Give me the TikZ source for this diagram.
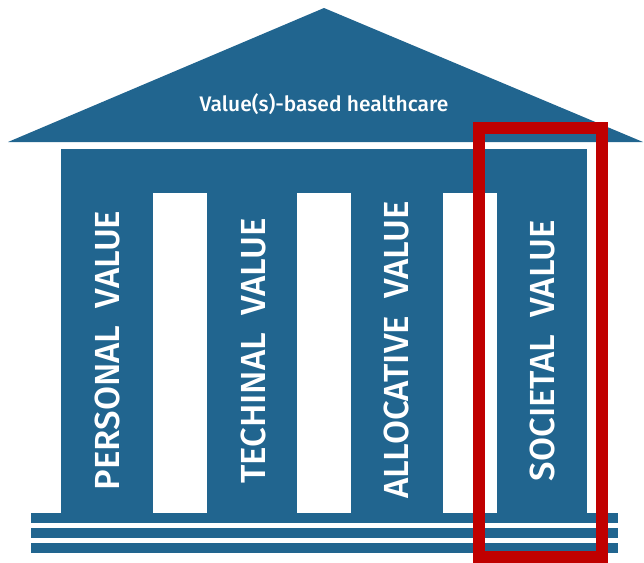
\documentclass[tikz,border=0pt]{standalone}
\usepackage{fontspec}
\setmainfont{Fira Sans}[UprightFont=* Medium]
\usepackage{tikz}
\definecolor{templeblue}{RGB}{33,101,143}
\definecolor{markred}{RGB}{192,0,0}

\begin{document}
\begin{tikzpicture}[x=1pt,y=-1pt]
  \tikzstyle{BlueStyle}=[fill=templeblue,draw=none]
  \tikzstyle{GapStyle}=[fill=white,draw=none]
  \tikzstyle{PillarStyle}=[text=white,rotate=90,inner sep=0pt,
                           font=\fontsize{34.8}{35}\selectfont]
  \useasboundingbox (0,0) rectangle (644,562);
  % roof
  \fill[BlueStyle] (8,142) -- (324,8) -- (643,142) -- cycle;
  \node[text=white,font=\fontsize{21}{21}\selectfont] (roof) at (324,104) {Value(s)-based healthcare};
  % body with the gaps between the pillars
  \fill[BlueStyle] (61,149) rectangle (587,513);
  \foreach \x in {153,297,443}
    \fill[GapStyle] (\x,193) rectangle ++(54,320);
  % steps
  \foreach \y in {513,528,543}
    \fill[BlueStyle] (31,\y) rectangle (618,\y+10);
  % pillars
  \node[PillarStyle] (personal) at (107.5,350.5) {PERSONAL\ \ VALUE};
  \node[PillarStyle] (techinal) at (253.5,351) {TECHINAL\ \ VALUE};
  \node[PillarStyle] (allocative) at (396.5,350) {ALLOCATIVE\ \ VALUE};
  \node[PillarStyle] (societal) at (542.5,350.5) {SOCIETAL\ \ VALUE};
  % mark
  \draw[markred,line width=12pt] (479,128) rectangle (602,556.5);
\end{tikzpicture}
\end{document}
